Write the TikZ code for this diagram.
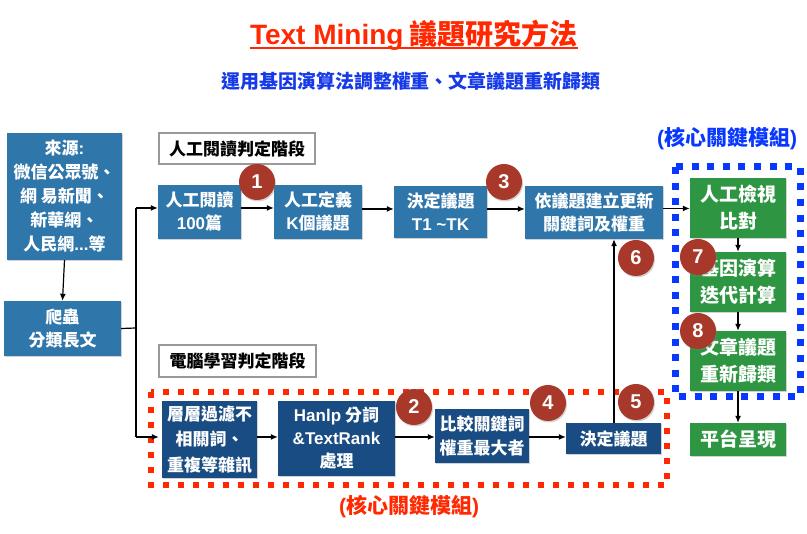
\documentclass[tikz,border=0pt]{standalone}
\usepackage{fontspec}
\setmainfont{Noto Sans CJK TC}
\newfontfamily\en{Liberation Sans}
\usetikzlibrary{arrows.meta,shadows}
\definecolor{upblue}{RGB}{47,118,170}
\definecolor{dkblue}{RGB}{24,76,130}
\definecolor{grn}{RGB}{46,150,66}
\definecolor{badgec}{RGB}{168,56,42}
\definecolor{ttlred}{RGB}{255,40,0}
\definecolor{ttlblue}{RGB}{22,58,232}
\definecolor{dotblue}{RGB}{8,56,255}
\tikzset{
  box/.style={draw=none, inner sep=0pt, align=center, text=white,
    drop shadow={opacity=0.35, shadow xshift=1pt, shadow yshift=-1pt}},
  upbox/.style={box, fill=upblue, font=\bfseries\fontsize{17}{23}\selectfont},
  lowbox/.style={box, fill=dkblue, font=\bfseries\fontsize{17}{24}\selectfont},
  grbox/.style={box, fill=grn, font=\bfseries\fontsize{19}{27}\selectfont},
  labbox/.style={draw=black!40, line width=1.5pt, fill=white, inner sep=0pt,
    text=black, font=\bfseries\fontsize{17}{20}\selectfont},
  badge/.style={circle, fill=badgec, minimum size=36pt, inner sep=0pt, text=white,
    font=\en\bfseries\fontsize{20}{20}\selectfont,
    drop shadow={opacity=0.35, shadow xshift=1pt, shadow yshift=-1.5pt}},
  arr/.style={-{Latex[length=7pt,width=6pt]}, line width=1.2pt, black},
  ln/.style={line width=1.2pt, black},
}
\begin{document}
\begin{tikzpicture}[x=1pt,y=-1pt]
\useasboundingbox[fill=white] (0,0) rectangle (807,534);

% titles
\node[inner sep=0pt, anchor=base, text=ttlred, font=\bfseries\fontsize{28}{30}\selectfont] (title) at (414,45) {{\en Text Mining} 議題研究方法};
\draw[ttlred, line width=2.5pt] ([yshift=-3pt]title.base west) -- ([yshift=-3pt]title.base east);
\node[inner sep=0pt, text=ttlblue, font=\bfseries\fontsize{19}{21}\selectfont] (sub) at (411,81.5) {運用基因演算法調整權重、文章議題重新歸類};

% dotted module frames
\draw[ttlred, line width=6pt, dash pattern=on 6pt off 9pt] (151,392) rectangle (667,485);
\draw[dotblue, line width=7pt, dash pattern=on 7pt off 8.6pt] (675,167) rectangle (800,397);
\node[text=dotblue, font=\bfseries\fontsize{21}{23}\selectfont, inner sep=0pt] (kb) at (727,139) {{\en(}核心關鍵模組{\en)}};
\node[text=ttlred, font=\bfseries\fontsize{21}{23}\selectfont, inner sep=0pt] (kr) at (409,507) {{\en(}核心關鍵模組{\en)}};

% stage labels
\node[labbox, minimum width=156pt, minimum height=31pt] (lab1) at (237,148.5) {人工閱讀判定階段};
\node[labbox, minimum width=157pt, minimum height=32pt] (lab2) at (237.5,361) {電腦學習判定階段};

% left boxes
\node[upbox, minimum width=115pt, minimum height=127pt, font=\bfseries\fontsize{17}{24}\selectfont] (src) at (64.5,196.5) {來源{\en:}\\微信公眾號、\\網 易新聞、\\新華網、\\人民網{\en...}等};
\node[upbox, minimum width=117pt, minimum height=55pt] (crawl) at (62.5,328.5) {爬蟲\\分類長文};

% upper row
\node[upbox, minimum width=83pt, minimum height=54pt] (read) at (199.5,212) {人工閱讀\\{\en 100}篇};
\node[upbox, minimum width=88pt, minimum height=54pt] (def) at (318,212) {人工定義\\{\en K}個議題};
\node[upbox, minimum width=93pt, minimum height=52pt] (dec) at (440.5,212) {決定議題\\{\en T1 \textasciitilde TK}};
\node[upbox, minimum width=138pt, minimum height=53pt] (upd) at (594,212.5) {依議題建立更新\\關鍵詞及權重};

% green column
\node[grbox, minimum width=96pt, minimum height=60pt] (g1) at (738,208) {人工檢視\\比對};
\node[grbox, minimum width=96pt, minimum height=60pt] (g2) at (738,282) {基因演算\\迭代計算};
\node[grbox, minimum width=96pt, minimum height=60pt] (g3) at (738,361) {文章議題\\重新歸類};
\node[grbox, minimum width=96pt, minimum height=33pt] (g4) at (738,439.5) {平台呈現};

% lower row
\node[lowbox, minimum width=95pt, minimum height=77pt, font=\bfseries\fontsize{17}{25.5}\selectfont] (flt) at (209.5,439.5) {層層過濾不\\相關詞、\\重複等雜訊};
\node[lowbox, minimum width=117pt, minimum height=75pt, font=\bfseries\fontsize{17}{23}\selectfont] (hp) at (336.5,438.5) {{\en Hanlp} 分詞\\{\en \&TextRank}\\處理};
\node[lowbox, minimum width=94pt, minimum height=54pt] (cmp) at (482,436) {比較關鍵詞\\權重最大者};
\node[lowbox, minimum width=95pt, minimum height=31pt] (dec2) at (613.5,438.5) {決定議題};

% connectors
\coordinate (j) at (136,328);
\coordinate (jt) at (136,208);
\coordinate (jb) at (136,437);
\draw[arr] (src.south) -- (crawl.north);
\draw[ln] (crawl.east) -- (j);
\draw[ln] (jt) -- (jb);
\draw[arr] (jt) -- (read.west |- jt);
\draw[arr] (jb) -- ([xshift=-3pt]flt.west |- jb);
\draw[arr] ([yshift=4pt]read.east) -- ([yshift=4pt]def.west);
\draw[arr] ([yshift=3pt]def.east) -- ([yshift=3pt]dec.west);
\draw[arr] ([yshift=3pt]dec.east) -- ([yshift=3pt]dec.east -| upd.west);
\draw[arr] ([yshift=4pt]upd.east) -- ([yshift=4pt]upd.east -| g1.west);
\draw[arr] (g1.south) -- (g2.north);
\draw[arr] (g2.south) -- (g3.north);
\draw[arr] (g3.south) -- (g4.north);
\draw[arr] (flt.east |- jb) -- (hp.west |- jb);
\draw[arr] (hp.east |- jb) -- (cmp.west |- jb);
\draw[arr] (cmp.east |- jb) -- (dec2.west |- jb);
\draw[arr] ([xshift=0.5pt]dec2.north) -- ([xshift=0.5pt]dec2.north |- upd.south);

% badges
\node[badge] (b1) at (257,182) {1};
\node[badge] (b3) at (504,182) {3};
\node[badge] (b6) at (636,258) {6};
\node[badge] (b7) at (698,257) {7};
\node[badge] (b8) at (698,331) {8};
\node[badge] (b2) at (414,407) {2};
\node[badge] (b4) at (548,403) {4};
\node[badge] (b5) at (636,402) {5};
\end{tikzpicture}
\end{document}
